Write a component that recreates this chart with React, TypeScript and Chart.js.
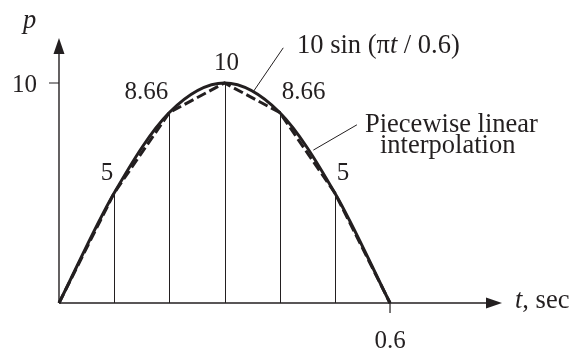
import { useEffect, useRef } from "react";
import { Chart, registerables } from "chart.js";

Chart.register(...registerables);

// Sample instants (s) and loads at those instants
const timeSec = [0, 0.1, 0.2, 0.3, 0.4, 0.5, 0.6];
const loadValues = [0, 5, 8.66, 10, 8.66, 5, 0];
const pointLabels = ["", "5", "8.66", "10", "8.66", "5", ""];

// Axis ticks
const yTickValue = 10;
const yTickLabel = "10";
const xTickValue = 0.6;
const xTickLabel = "0.6";

const INK = "#231f20";
const FAMILY = "'Liberation Serif', 'Times New Roman', serif";
const NUM_SIZE = 25;
const CAP_SIZE = 26.5;

type Seg = [string, boolean];

function drawSegments(
  ctx: CanvasRenderingContext2D,
  segs: Seg[],
  x: number,
  y: number,
  size: number
) {
  let cx = x;
  for (const [text, italic] of segs) {
    ctx.font = `${italic ? "italic " : ""}${size}px ${FAMILY}`;
    ctx.textAlign = "left";
    ctx.fillText(text, cx, y);
    cx += ctx.measureText(text).width;
  }
}

const figurePlugin = {
  id: "figureAnnotations",
  beforeDatasetsDraw(chart: any) {
    const ctx: CanvasRenderingContext2D = chart.ctx;
    const xs = chart.scales.x;
    const ys = chart.scales.y;
    const ox = xs.getPixelForValue(0);
    const oy = ys.getPixelForValue(0);
    ctx.save();
    ctx.strokeStyle = INK;
    ctx.fillStyle = INK;

    // axes
    ctx.lineWidth = 1.4;
    const xEnd = 502;
    const yEnd = 38;
    ctx.beginPath();
    ctx.moveTo(ox, oy);
    ctx.lineTo(xEnd - 12, oy);
    ctx.moveTo(ox, oy);
    ctx.lineTo(ox, yEnd + 12);
    ctx.stroke();

    // arrowheads
    ctx.beginPath();
    ctx.moveTo(xEnd, oy);
    ctx.lineTo(xEnd - 16, oy - 5.5);
    ctx.lineTo(xEnd - 16, oy + 5.5);
    ctx.closePath();
    ctx.fill();
    ctx.beginPath();
    ctx.moveTo(ox, yEnd);
    ctx.lineTo(ox - 5.5, yEnd + 16);
    ctx.lineTo(ox + 5.5, yEnd + 16);
    ctx.closePath();
    ctx.fill();

    // tick marks
    const ty = ys.getPixelForValue(yTickValue);
    const tx = xs.getPixelForValue(xTickValue);
    ctx.lineWidth = 1.2;
    ctx.beginPath();
    ctx.moveTo(ox - 10, ty);
    ctx.lineTo(ox, ty);
    ctx.moveTo(tx, oy);
    ctx.lineTo(tx, oy + 10);
    ctx.stroke();

    // ordinates at the interior sample points
    ctx.lineWidth = 1;
    ctx.beginPath();
    for (let i = 1; i < timeSec.length - 1; i++) {
      const px = Math.round(xs.getPixelForValue(timeSec[i])) + 0.5;
      ctx.moveTo(px, oy);
      ctx.lineTo(px, ys.getPixelForValue(loadValues[i]));
    }
    ctx.stroke();
    ctx.restore();
  },
  afterDatasetsDraw(chart: any) {
    const ctx: CanvasRenderingContext2D = chart.ctx;
    const xs = chart.scales.x;
    const ys = chart.scales.y;
    const ox = xs.getPixelForValue(0);
    const oy = ys.getPixelForValue(0);
    ctx.save();
    ctx.fillStyle = INK;
    ctx.strokeStyle = INK;
    ctx.textBaseline = "alphabetic";
    ctx.font = `${NUM_SIZE}px ${FAMILY}`;

    // value labels beside sample points
    const peak = 3;
    for (let i = 1; i < timeSec.length - 1; i++) {
      const px = xs.getPixelForValue(timeSec[i]);
      const py = ys.getPixelForValue(loadValues[i]);
      if (i < peak) {
        ctx.textAlign = "right";
        ctx.fillText(pointLabels[i], px - 1, py - 13);
      } else if (i === peak) {
        ctx.textAlign = "center";
        ctx.fillText(pointLabels[i], px + 2, py - 13);
      } else {
        ctx.textAlign = "left";
        ctx.fillText(pointLabels[i], px + 2, py - 13);
      }
    }

    // axis tick labels
    ctx.textAlign = "right";
    ctx.fillText(yTickLabel, 37, ys.getPixelForValue(yTickValue) + 9);
    ctx.textAlign = "center";
    ctx.fillText(xTickLabel, xs.getPixelForValue(xTickValue), oy + 45);

    // axis titles
    drawSegments(ctx, [["p", true]], ox - 36, 28, CAP_SIZE);
    drawSegments(ctx, [["t", true], [", sec", false]], 515, oy + 5, CAP_SIZE);

    // curve captions
    drawSegments(ctx, [["10 sin (π", false], ["t", true], [" / 0.6)", false]], 297, 53, CAP_SIZE);
    drawSegments(ctx, [["Piecewise linear", false]], 365, 132, CAP_SIZE);
    drawSegments(ctx, [["interpolation", false]], 380, 153, CAP_SIZE);

    // leader lines
    ctx.lineWidth = 1;
    ctx.beginPath();
    ctx.moveTo(xs.getPixelForValue(0.352), ys.getPixelForValue(9.6));
    ctx.lineTo(xs.getPixelForValue(0.4065), ys.getPixelForValue(11.6));
    ctx.moveTo(xs.getPixelForValue(0.461), ys.getPixelForValue(6.95));
    ctx.lineTo(xs.getPixelForValue(0.540), ys.getPixelForValue(8.1));
    ctx.stroke();
    ctx.restore();
  },
};

export default function App() {
  const ref = useRef<HTMLCanvasElement | null>(null);

  useEffect(() => {
    if (!ref.current) return;
    const sinePts = timeSec.map((t, i) => ({ x: t, y: loadValues[i] }));
    const linearPts = timeSec.map((t, i) => ({ x: t, y: loadValues[i] }));
    const chart = new Chart(ref.current, {
      type: "line",
      data: {
        datasets: [
          {
            label: "10 sin (πt / 0.6)",
            data: sinePts,
            borderColor: INK,
            borderWidth: 3,
            cubicInterpolationMode: "monotone",
            pointRadius: 0,
            fill: false,
          },
          {
            label: "Piecewise linear interpolation",
            data: linearPts,
            borderColor: INK,
            borderWidth: 3,
            borderDash: [10, 4],
            tension: 0,
            pointRadius: 0,
            fill: false,
          },
        ],
      },
      options: {
        responsive: false,
        animation: false,
        devicePixelRatio: 1,
        layout: { padding: 0 },
        plugins: { legend: { display: false }, tooltip: { enabled: false } },
        scales: {
          x: { type: "linear", display: false, min: -0.10694, max: 0.95523 },
          y: { type: "linear", display: false, min: -2.0909, max: 13.773 },
        },
      },
      plugins: [figurePlugin],
    });
    return () => chart.destroy();
  }, []);

  return (
    <div style={{ position: "fixed", left: 0, top: 0, width: 586, height: 349, background: "#fff" }}>
      <canvas ref={ref} width={586} height={349} style={{ display: "block", width: 586, height: 349 }} />
    </div>
  );
}
